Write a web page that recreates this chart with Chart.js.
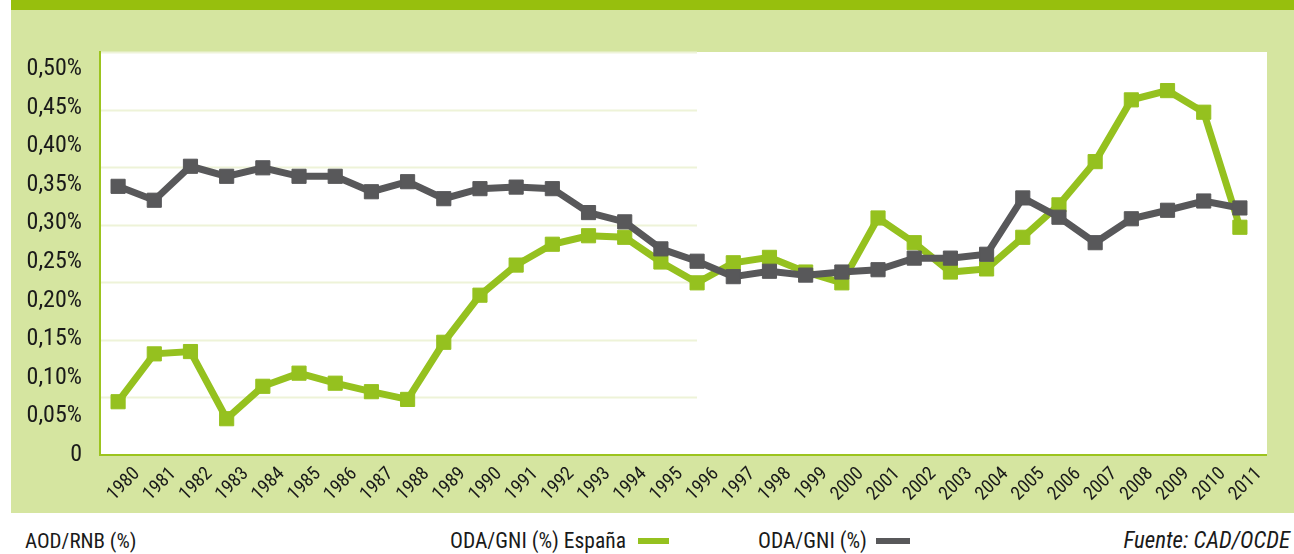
<!DOCTYPE html>
<html>
<head>
<meta charset="utf-8">
<script src="https://cdn.jsdelivr.net/npm/chart.js@4/dist/chart.umd.min.js"></script>
<style>
  html, body { margin: 0; padding: 0; background: #fff; }
  body { width: 1294px; height: 554px; position: relative; overflow: hidden;
         font-family: "Liberation Sans Narrow", "Roboto Condensed", "DejaVu Sans Condensed", sans-serif; color: #1a1a1a; }
  #wrap { position: absolute; left: 0; top: 0; width: 1294px; height: 513px; }
  .foot { position: absolute; top: 528px; font-size: 21px; line-height: 26px; white-space: nowrap; }
  .swatch { display: inline-block; width: 31px; height: 6px; vertical-align: middle; margin-left: 12px; position: relative; top: -1px; }
</style>
</head>
<body>
<div id="wrap"><canvas id="myChart" width="1294" height="513"></canvas></div>
<div class="foot" style="left:25px">AOD/RNB (%)</div>
<div class="foot" style="left:450px;font-size:21.5px">ODA/GNI (%) España<span class="swatch" style="background:#95c11f"></span></div>
<div class="foot" style="left:758px;font-size:21.5px">ODA/GNI (%)<span class="swatch" style="background:#58585a;width:34px;margin-left:9px"></span></div>
<div class="foot" style="right:4px;font-style:italic;font-size:23px">Fuente: CAD/OCDE</div>
<script>
var years = ["1980","1981","1982","1983","1984","1985","1986","1987","1988","1989","1990","1991",
  "1992","1993","1994","1995","1996","1997","1998","1999","2000","2001","2002","2003",
  "2004","2005","2006","2007","2008","2009","2010","2011"];
var odaSpain = [0.069, 0.131, 0.134, 0.047, 0.089, 0.106, 0.093, 0.082, 0.072, 0.146, 0.207, 0.246,
  0.273, 0.284, 0.282, 0.250, 0.223, 0.249, 0.256, 0.237, 0.223, 0.307, 0.275, 0.237,
  0.241, 0.282, 0.324, 0.380, 0.460, 0.472, 0.444, 0.295];
var odaDac = [0.348, 0.330, 0.374, 0.361, 0.372, 0.361, 0.361, 0.341, 0.354, 0.332, 0.345, 0.347,
  0.345, 0.314, 0.302, 0.267, 0.251, 0.231, 0.238, 0.233, 0.237, 0.240, 0.255, 0.255,
  0.260, 0.333, 0.308, 0.275, 0.306, 0.317, 0.329, 0.320];
var yTicks = [0, 0.05, 0.10, 0.15, 0.20, 0.25, 0.30, 0.35, 0.40, 0.45, 0.50];

var green = "#95c11f";
var grey = "#58585a";
var fontFam = '"Liberation Sans Narrow", "Roboto Condensed", "DejaVu Sans Condensed", sans-serif';

// panel, white plot area, faint grid on the left half, bottom axis line
var panelPlugin = {
  id: "panel",
  beforeDraw: function(chart) {
    var ctx = chart.ctx, a = chart.chartArea;
    var plotRight = 1267;
    ctx.save();
    ctx.fillStyle = "#d5e5a0";
    ctx.fillRect(11, 0, chart.width - 11, chart.height);
    ctx.fillStyle = "#97bf0d";
    ctx.fillRect(11, 0, chart.width - 11, 10);
    ctx.fillStyle = "#fff";
    ctx.fillRect(a.left, a.top, plotRight - a.left, a.bottom - a.top);
    ctx.strokeStyle = "#eef3d8";
    ctx.lineWidth = 2;
    var h = (a.bottom - a.top) / 7;
    for (var i = 0; i < 7; i++) {
      var y = Math.round(a.top + i * h) + 0.5;
      ctx.beginPath();
      ctx.moveTo(a.left, y);
      ctx.lineTo(697, y);
      ctx.stroke();
    }
    ctx.restore();
  },
  afterDraw: function(chart) {
    var ctx = chart.ctx, a = chart.chartArea;
    ctx.save();
    ctx.strokeStyle = "#9cc41e";
    ctx.lineWidth = 2;
    ctx.beginPath();
    ctx.moveTo(a.left - 1, a.bottom);
    ctx.lineTo(1267, a.bottom);
    ctx.stroke();
    ctx.restore();
  }
};

new Chart("myChart", {
  type: "line",
  data: {
    labels: years,
    datasets: [{
      label: "ODA/GNI (%)",
      data: odaDac,
      borderColor: grey,
      backgroundColor: grey,
      borderWidth: 7,
      pointStyle: "rect",
      pointRadius: 10,
      pointBorderWidth: 1,
      pointBorderColor: grey,
      pointBackgroundColor: grey,
      tension: 0,
      order: 0
    }, {
      label: "ODA/GNI (%) España",
      data: odaSpain,
      borderColor: green,
      backgroundColor: green,
      borderWidth: 7,
      pointStyle: "rect",
      pointRadius: 10,
      pointBorderWidth: 1,
      pointBorderColor: green,
      pointBackgroundColor: green,
      tension: 0,
      order: 1
    }]
  },
  options: {
    responsive: false,
    animation: false,
    events: [],
    layout: { padding: { left: 0, top: 52, right: 36, bottom: 0 } },
    plugins: {
      legend: { display: false },
      title: { display: false },
      tooltip: { enabled: false }
    },
    scales: {
      x: {
        offset: true,
        grid: { display: false, drawTicks: false },
        border: { display: false },
        afterFit: function(s) { s.height = 58; },
        ticks: {
          autoSkip: false,
          minRotation: 45,
          maxRotation: 45,
          padding: 8,
          labelOffset: 19,
          color: "#1a1a1a",
          font: { family: fontFam, size: 19 }
        }
      },
      y: {
        min: 0,
        max: 0.522,
        afterFit: function(s) { s.width = 100; },
        afterBuildTicks: function(s) {
          s.ticks = yTicks.map(function(v) { return { value: v }; });
        },
        grid: { display: false, drawTicks: false },
        border: { display: true, color: "#9cc41e", width: 2 },
        ticks: {
          padding: 18,
          color: "#1a1a1a",
          font: { family: fontFam, size: 24 },
          callback: function(v) {
            if (v === 0) return "0";
            return v.toFixed(2).replace(".", ",") + "%";
          }
        }
      }
    }
  },
  plugins: [panelPlugin]
});
</script>
</body>
</html>
